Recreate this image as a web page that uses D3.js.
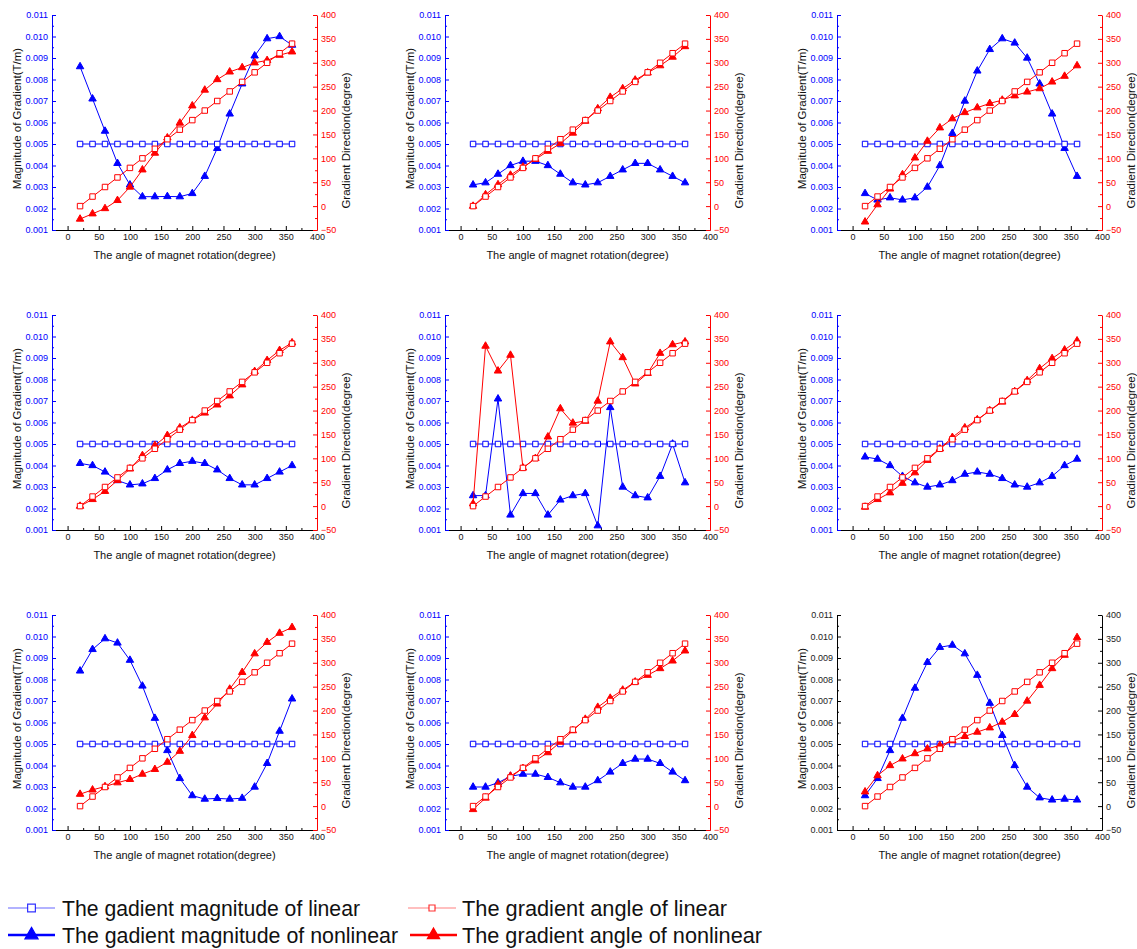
<!DOCTYPE html>
<html>
<head>
<meta charset="utf-8">
<script src="https://cdn.jsdelivr.net/npm/d3@7"></script>
<style>
  html, body { margin: 0; padding: 0; background: #fff; }
  svg { display: block; font-family: "Liberation Sans", Arial, sans-serif; }
</style>
</head>
<body>
<svg id="chart" width="1137" height="949"></svg>
<script>
// ---------- data ----------
const rotation = [20, 40, 60, 80, 100, 120, 140, 160, 180, 200, 220, 240, 260, 280, 300, 320, 340, 360];
const linearMagnitude = [0.005, 0.005, 0.005, 0.005, 0.005, 0.005, 0.005, 0.005, 0.005, 0.005, 0.005, 0.005, 0.005, 0.005, 0.005, 0.005, 0.005, 0.005];
const linearAngle = [0, 20, 40, 60, 80, 100, 120, 140, 160, 180, 200, 220, 240, 260, 280, 300, 320, 340];

const mag1 = [0.0086, 0.0071, 0.0056, 0.0041, 0.0031, 0.00255, 0.00255, 0.00256, 0.00255, 0.0027, 0.0035, 0.0048, 0.0064, 0.0078, 0.0091, 0.0099, 0.0100, 0.0096];
const ang1 = [-27, -16, -5, 12, 40, 76, 111, 143, 174, 210, 243, 265, 281, 290, 300, 305, 316, 323];
const mag2 = [0.0031, 0.0032, 0.0036, 0.0040, 0.0042, 0.0042, 0.0040, 0.0036, 0.0032, 0.0031, 0.0032, 0.0035, 0.0038, 0.0041, 0.0041, 0.0038, 0.0035, 0.0032];
const ang2 = [0, 24, 45, 65, 82, 98, 115, 131, 153, 178, 204, 228, 246, 264, 279, 294, 312, 334];
const mag3 = [0.0027, 0.0024, 0.0025, 0.0024, 0.0025, 0.0030, 0.0040, 0.0055, 0.0070, 0.0084, 0.0094, 0.0099, 0.0097, 0.0090, 0.0078, 0.0064, 0.0048, 0.0035];
const ang3 = [-33, 3, 36, 66, 101, 136, 164, 183, 196, 206, 215, 222, 231, 239, 246, 260, 272, 294];
const mag4 = [0.0041, 0.0040, 0.0037, 0.0033, 0.0031, 0.00315, 0.0034, 0.0038, 0.0041, 0.0042, 0.0041, 0.0038, 0.0034, 0.0031, 0.0031, 0.0034, 0.0037, 0.0040];
const ang4 = [0, 14, 31, 54, 78, 106, 127, 148, 164, 180, 195, 212, 231, 254, 282, 305, 326, 342];
const mag5 = [0.0026, 0.0026, 0.0071, 0.0017, 0.0027, 0.0027, 0.0017, 0.0024, 0.0026, 0.0027, 0.0012, 0.0067, 0.0030, 0.0026, 0.0025, 0.0035, 0.0050, 0.0032];
const ang5 = [5, 335, 283, 316, 80, 100, 145, 204, 174, 178, 220, 344, 311, 256, 278, 320, 338, 344];
const mag6 = [0.0044, 0.0043, 0.0040, 0.0035, 0.0032, 0.0030, 0.0031, 0.0033, 0.0036, 0.0037, 0.0036, 0.0034, 0.0031, 0.0030, 0.0032, 0.0035, 0.0040, 0.0043];
const ang6 = [-2, 14, 28, 48, 70, 96, 120, 144, 164, 181, 200, 218, 240, 263, 288, 309, 327, 346];
const mag7 = [0.0084, 0.0094, 0.0099, 0.0097, 0.0089, 0.0077, 0.0062, 0.0047, 0.0034, 0.0026, 0.00244, 0.00247, 0.00244, 0.00248, 0.0030, 0.0041, 0.0056, 0.0071];
const ang7 = [25, 34, 41, 49, 56, 67, 77, 92, 115, 148, 185, 214, 245, 280, 319, 343, 362, 374];
const mag8 = [0.0030, 0.0030, 0.0032, 0.0035, 0.0036, 0.0036, 0.00345, 0.0032, 0.0030, 0.0030, 0.0033, 0.0037, 0.0041, 0.0043, 0.0043, 0.0041, 0.0037, 0.0033];
const ang8 = [-7, 17, 45, 63, 79, 95, 112, 134, 158, 182, 207, 226, 243, 260, 274, 288, 304, 325];
const mag9 = [0.0026, 0.0034, 0.0047, 0.0062, 0.0076, 0.0088, 0.0095, 0.0096, 0.0092, 0.0082, 0.0069, 0.0054, 0.0040, 0.0030, 0.0025, 0.0024, 0.00244, 0.0024];
const ang9 = [30, 64, 85, 99, 110, 120, 127, 137, 146, 155, 164, 176, 192, 220, 253, 288, 316, 353];

const magnitudeTicks = [0.001, 0.002, 0.003, 0.004, 0.005, 0.006, 0.007, 0.008, 0.009, 0.010, 0.011];
const angleTicks = [-50, 0, 50, 100, 150, 200, 250, 300, 350, 400];
const rotationTicks = [0, 50, 100, 150, 200, 250, 300, 350, 400];

const legendLabels = [
  "The gadient magnitude of linear",
  "The gadient magnitude of nonlinear",
  "The gradient angle of linear",
  "The gradient angle of nonlinear"
];
const xTitle = "The angle of magnet rotation(degree)";
const yLeftTitle = "Magnitude of Gradient(T/m)";
const yRightTitle = "Gradient Direction(degree)";

const panelMag = [mag1, mag2, mag3, mag4, mag5, mag6, mag7, mag8, mag9];
const panelAng = [ang1, ang2, ang3, ang4, ang5, ang6, ang7, ang8, ang9];

// ---------- layout ----------
const svg = d3.select("#chart");
const colLeft = [52, 445, 837];
const rowTop = [15, 315, 615];
const W = 265, H = 215;
const BLUE = "#0000ff", RED = "#ff0000";

const x = d3.scaleLinear().domain([-25, 400]).range([0, W]);
const yL = d3.scaleLinear().domain([0.001, 0.011]).range([H, 0]);
const yR = d3.scaleLinear().domain([-50, 400]).range([H, 0]);

const mids = arr => arr.slice(0, -1).map((v, i) => (v + arr[i + 1]) / 2);

const triangle = d3.symbol(d3.symbolTriangle, 24);
const square = d3.symbol(d3.symbolSquare, 30);

function drawPanel(i) {
  const mono = (i === 8);
  const leftCol = mono ? "#000" : BLUE;
  const rightCol = mono ? "#000" : RED;
  const leftTxt = mono ? "#222" : BLUE;
  const rightTxt = mono ? "#222" : RED;
  const g = svg.append("g")
    .attr("transform", `translate(${colLeft[i % 3]},${rowTop[Math.floor(i / 3)]})`);

  // axes
  const xa = g.append("g").attr("transform", `translate(0,${H})`)
    .call(d3.axisBottom(x).tickValues(rotationTicks).tickSize(-4).tickPadding(4).tickSizeOuter(0));
  g.append("g").attr("transform", `translate(0,${H})`)
    .call(d3.axisBottom(x).tickValues(mids(rotationTicks)).tickSize(-2).tickFormat("").tickSizeOuter(0))
    .call(s => s.select(".domain").remove());
  xa.selectAll("text").attr("fill", "#111").style("font-size", "9px");
  xa.selectAll("line,path").attr("stroke", "#000");

  const la = g.append("g")
    .call(d3.axisLeft(yL).tickValues(magnitudeTicks).tickFormat(d3.format(".3f")).tickSize(-4).tickPadding(4).tickSizeOuter(0));
  g.append("g").call(d3.axisLeft(yL).tickValues(mids(magnitudeTicks)).tickSize(-2).tickFormat("").tickSizeOuter(0))
    .call(s => s.select(".domain").remove())
    .selectAll("line").attr("stroke", leftCol);
  la.selectAll("text").attr("fill", leftTxt).style("font-size", "9px");
  la.selectAll("line,path").attr("stroke", leftCol);

  const ra = g.append("g").attr("transform", `translate(${W},0)`)
    .call(d3.axisRight(yR).tickValues(angleTicks).tickSize(-4).tickPadding(4).tickSizeOuter(0));
  g.append("g").attr("transform", `translate(${W},0)`)
    .call(d3.axisRight(yR).tickValues(mids(angleTicks)).tickSize(-2).tickFormat("").tickSizeOuter(0))
    .call(s => s.select(".domain").remove())
    .selectAll("line").attr("stroke", rightCol);
  ra.selectAll("text").attr("fill", rightTxt).style("font-size", "9px");
  ra.selectAll("line,path").attr("stroke", rightCol);

  // titles
  g.append("text").attr("x", W / 2).attr("y", H + 29).attr("text-anchor", "middle")
    .style("font-size", "11px").attr("fill", "#111").text(xTitle);
  g.append("text").attr("transform", `translate(-31,${H / 2 - 4}) rotate(-90)`).attr("text-anchor", "middle")
    .style("font-size", "11.5px").attr("fill", "#111").text(yLeftTitle);
  g.append("text").attr("transform", `translate(${W + 33},${H / 2 + 18}) rotate(-90)`).attr("text-anchor", "middle")
    .style("font-size", "11.5px").attr("fill", "#111").text(yRightTitle);

  const series = [
    { vals: panelMag[i], y: yL, color: BLUE, sym: triangle, fill: true },
    { vals: linearMagnitude, y: yL, color: BLUE, sym: square, fill: false },
    { vals: panelAng[i], y: yR, color: RED, sym: triangle, fill: true },
    { vals: linearAngle, y: yR, color: RED, sym: square, fill: false }
  ];
  series.forEach(s => {
    const pts = rotation.map((r, k) => [x(r), s.y(s.vals[k])]);
    g.append("path").attr("d", d3.line()(pts)).attr("fill", "none")
      .attr("stroke", s.color).attr("stroke-width", 1);
    g.append("g").selectAll("path").data(pts).join("path")
      .attr("transform", d => `translate(${d[0]},${d[1]})`)
      .attr("d", s.sym())
      .attr("fill", s.fill ? s.color : "#fff")
      .attr("stroke", s.color).attr("stroke-width", 1);
  });
}
for (let i = 0; i < 9; i++) drawPanel(i);

// ---------- legend ----------
const leg = svg.append("g");
const legItems = [
  { label: legendLabels[0], color: BLUE, sym: d3.symbol(d3.symbolSquare, 60), fill: false, x0: 8, x1: 55, tx: 62, tEnd: 360, y: 908, lw: 1.2, op: 0.6 },
  { label: legendLabels[1], color: BLUE, sym: d3.symbol(d3.symbolTriangle, 75), fill: true, x0: 8, x1: 55, tx: 62, tEnd: 398, y: 935, lw: 2.5, op: 1 },
  { label: legendLabels[2], color: RED, sym: d3.symbol(d3.symbolSquare, 36), fill: false, x0: 408, x1: 456, tx: 462, tEnd: 727, y: 908, lw: 1.2, op: 0.5 },
  { label: legendLabels[3], color: RED, sym: d3.symbol(d3.symbolTriangle, 65), fill: true, x0: 410, x1: 457, tx: 462, tEnd: 762, y: 935, lw: 2.5, op: 1 }
];
legItems.forEach(d => {
  leg.append("line").attr("x1", d.x0).attr("x2", d.x1).attr("y1", d.y).attr("y2", d.y)
    .attr("stroke", d.color).attr("stroke-width", d.lw).attr("stroke-opacity", d.op);
  leg.append("path").attr("transform", `translate(${(d.x0 + d.x1) / 2},${d.y})`).attr("d", d.sym())
    .attr("fill", d.fill ? d.color : "#fff").attr("stroke", d.color).attr("stroke-width", 1.2)
    .attr("stroke-opacity", d.fill ? 1 : 0.8);
  leg.append("text").attr("x", d.tx).attr("y", d.y + 8).style("font-size", "22px").attr("fill", "#111")
    .attr("textLength", d.tEnd - d.tx).attr("lengthAdjust", "spacingAndGlyphs")
    .text(d.label);
});
</script>
</body>
</html>
